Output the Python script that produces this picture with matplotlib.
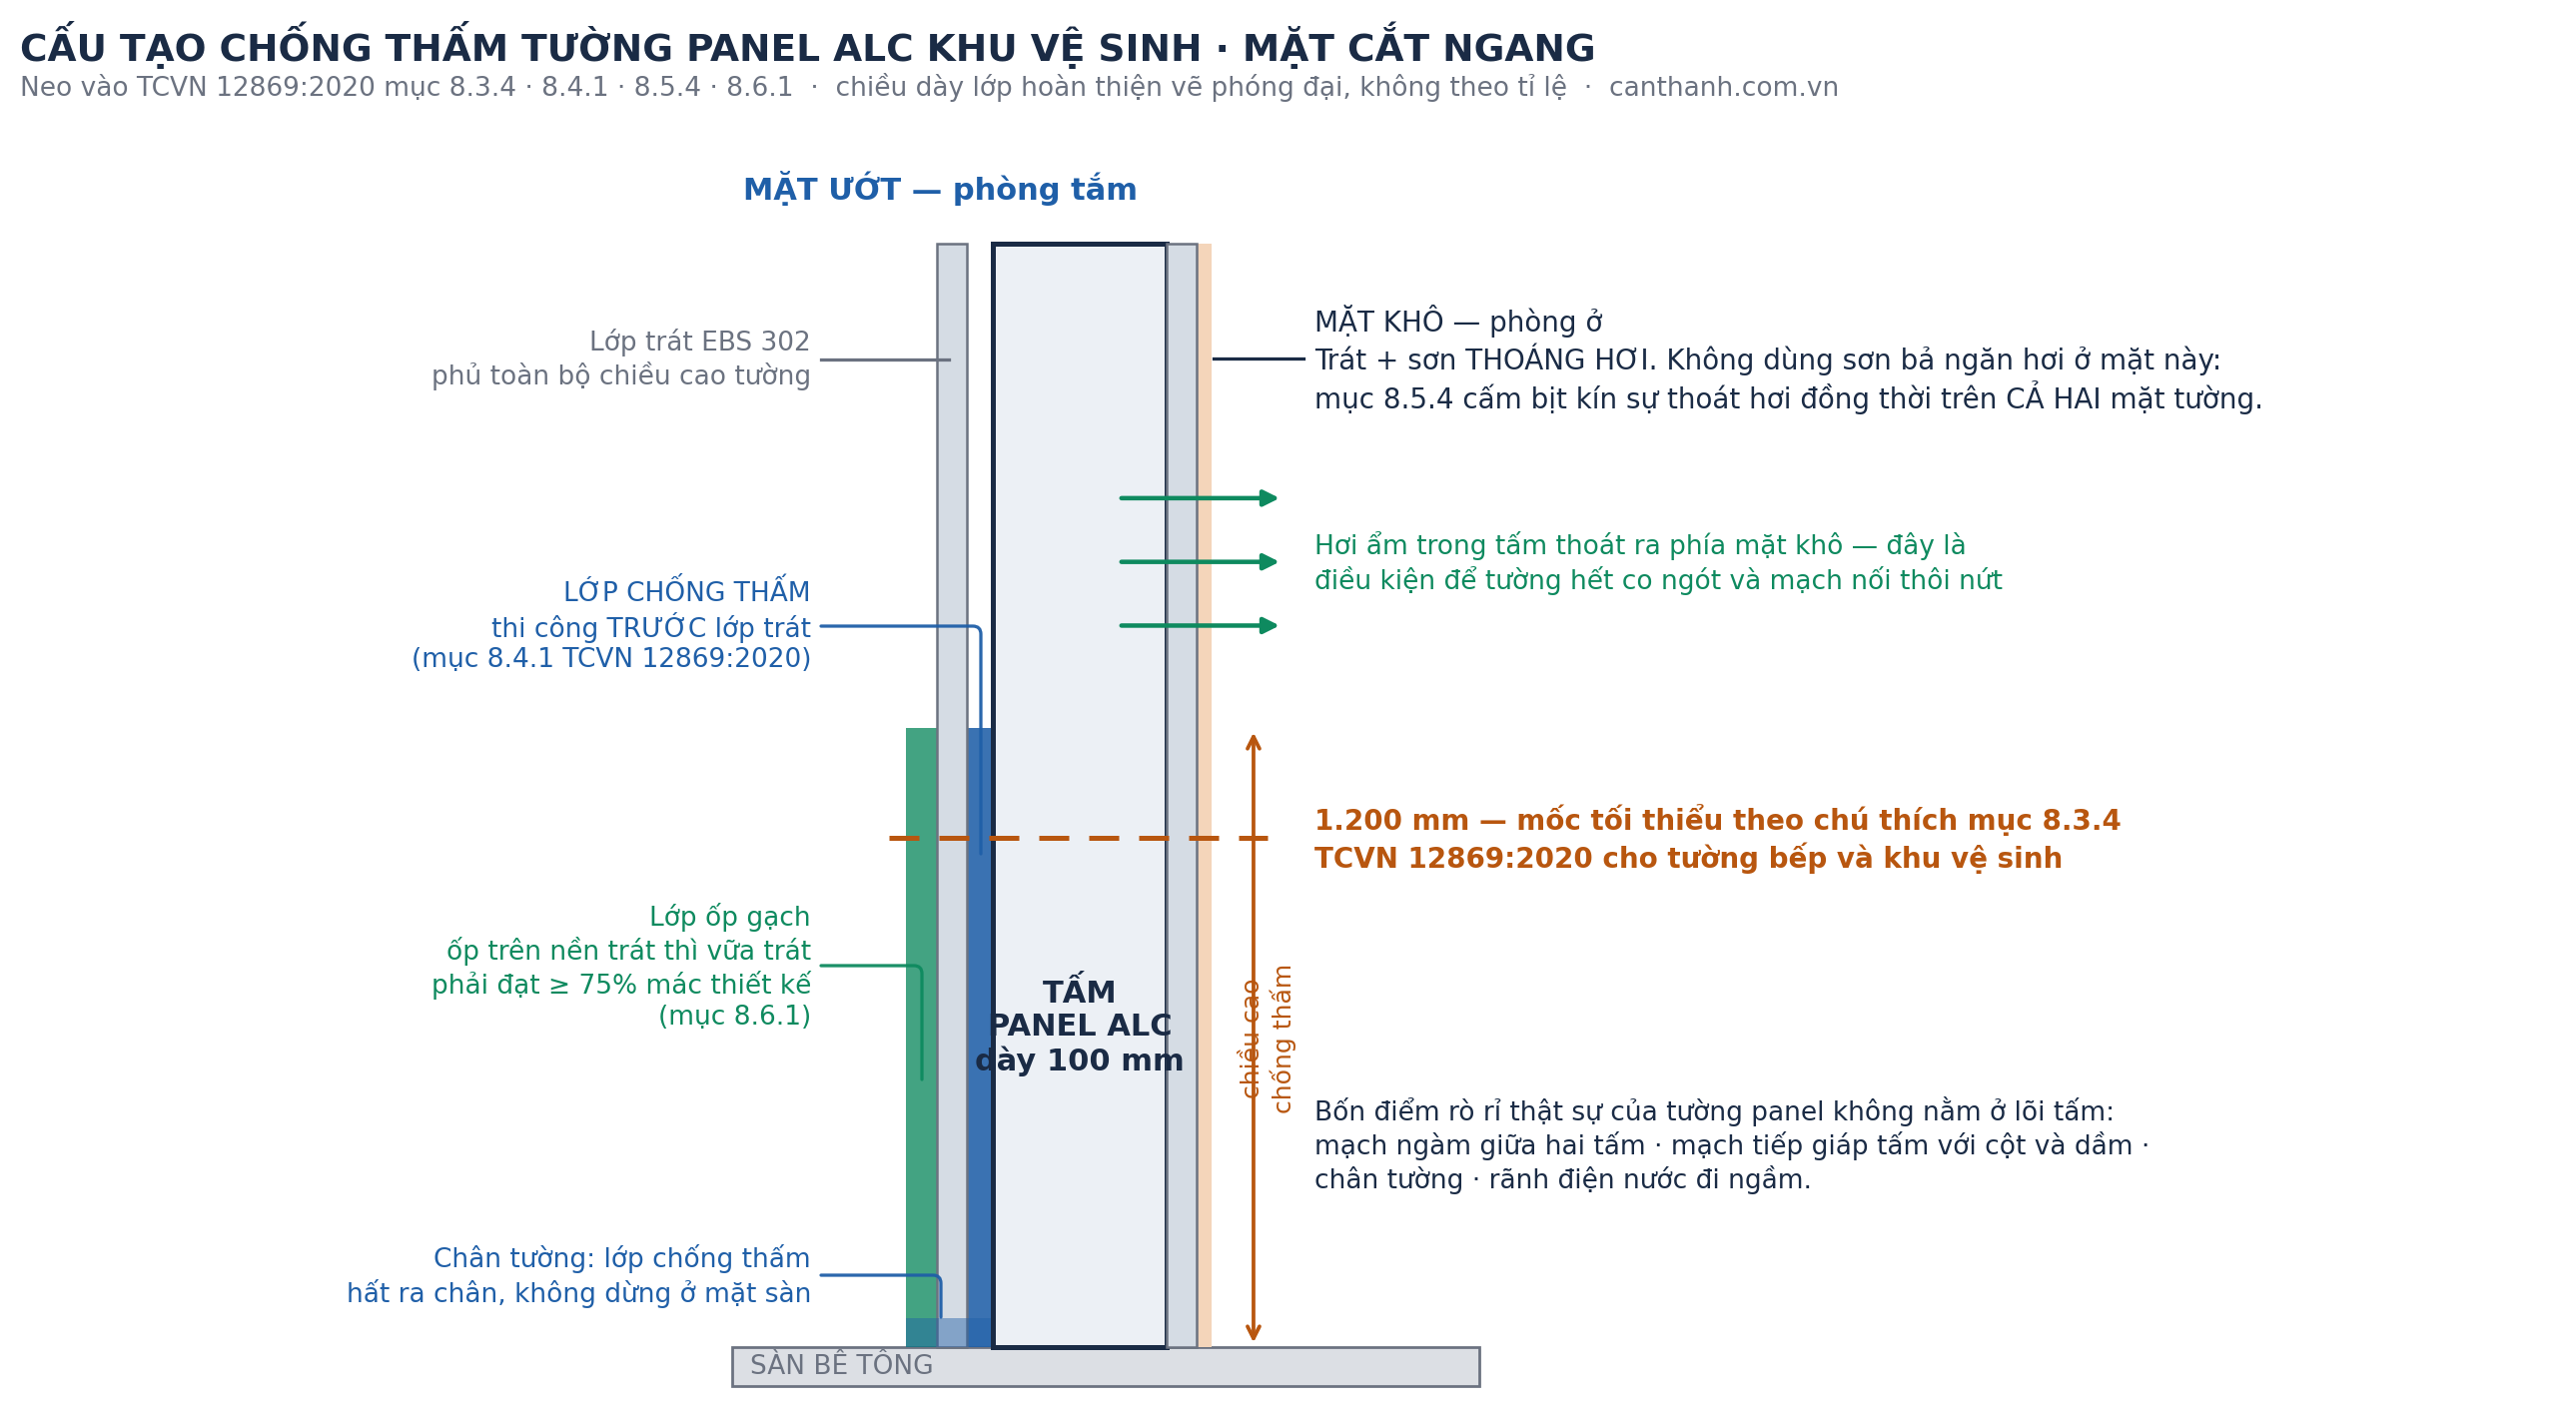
import matplotlib
matplotlib.use('Agg')
import matplotlib.pyplot as plt
from matplotlib.patches import Rectangle

plt.rcParams['font.family'] = ['DejaVu Sans']

NAVY = '#1a2b45'
GREY = '#6b7280'
BLUE = '#1f5fa8'
GREEN = '#0e8a5f'
ORANGE = '#b8560f'

# chiều dày lớp (đơn vị vẽ, tấm = 100) và chiều cao (mm)
panel_thickness = 100
plaster_wet = 17
plaster_dry = 17
paint_dry = 9
tile_thickness = 18
membrane_thickness = 15
floor_thickness = 90
wall_height = 2600
membrane_height = 1460
min_height = 1200
base_band = 70
moisture_levels = [2000, 1850, 1700]

title = 'CẤU TẠO CHỐNG THẤM TƯỜNG PANEL ALC KHU VỆ SINH · MẶT CẮT NGANG'
subtitle = ('Neo vào TCVN 12869:2020 mục 8.3.4 · 8.4.1 · 8.5.4 · 8.6.1  ·  '
            'chiều dày lớp hoàn thiện vẽ phóng đại, không theo tỉ lệ  ·  canthanh.com.vn')
left_notes = [
    ('Lớp trát EBS 302\nphủ toàn bộ chiều cao tường', 360, GREY),
    ('LỚP CHỐNG THẤM\nthi công TRƯỚC lớp trát\n(mục 8.4.1 TCVN 12869:2020)', 627, BLUE),
    ('Lớp ốp gạch\nốp trên nền trát thì vữa trát\nphải đạt ≥ 75% mác thiết kế\n(mục 8.6.1)', 968, GREEN),
    ('Chân tường: lớp chống thấm\nhất ra chân, không dừng ở mặt sàn', 1278, BLUE),
]
dry_note = ('MẶT KHÔ — phòng ở\nTrát + sơn THOÁNG HƠI. Không dùng sơn bả ngăn hơi ở mặt này:\n'
            'mục 8.5.4 cấm bịt kín sự thoát hơi đồng thời trên CẢ HAI mặt tường.')
vapour_note = 'Hơi ẩm trong tấm thoát ra phía mặt khô — đây là\nđiều kiện để tường hết co ngót và mạch nối thôi nứt'
height_note = '1.200 mm — mốc tối thiểu theo chú thích mục 8.3.4\nTCVN 12869:2020 cho tường bếp và khu vệ sinh'
leak_note = ('Bốn điểm rò rỉ thật sự của tường panel không nằm ở lõi tấm:\n'
             'mạch ngàm giữa hai tấm · mạch tiếp giáp tấm với cột và dầm ·\n'
             'chân tường · rãnh điện nước đi ngầm.')

fig = plt.figure(figsize=(2579 / 180, 1419 / 180), dpi=180)

# trục theo kích thước tường
ax = fig.add_axes([0, 0, 1, 1])
ax.set_xlim(-571.3, 911)
ax.set_ylim(-163.5, 3173)
ax.axis('off')

# trục pixel cho chữ và đường dẫn
ann = fig.add_axes([0, 0, 1, 1], zorder=5)
ann.set_xlim(0, 2579)
ann.set_ylim(1419, 0)
ann.axis('off')
ann.patch.set_alpha(0)

wet_face = -membrane_thickness
tile_face = wet_face - plaster_wet
dry_face = panel_thickness + plaster_dry

# sàn
ax.add_patch(Rectangle((-150, -floor_thickness), 430, floor_thickness, fc='#dcdfe4', ec=GREY, lw=1.1, zorder=1))
# gạch, chống thấm
ax.add_patch(Rectangle((tile_face - tile_thickness, 0), tile_thickness, membrane_height, fc=GREEN, alpha=0.78, lw=0, zorder=2))
ax.add_patch(Rectangle((wet_face, 0), membrane_thickness, membrane_height, fc=BLUE, alpha=0.88, lw=0, zorder=2))
# lớp trát
ax.add_patch(Rectangle((tile_face, 0), plaster_wet, wall_height, fc='#d5dce4', ec=GREY, lw=1.0, zorder=2))
ax.add_patch(Rectangle((dry_face, 0), paint_dry, wall_height, fc='#f4d5ba', lw=0, zorder=2))
# tấm panel
ax.add_patch(Rectangle((0, 0), panel_thickness, wall_height, fc='#ecf0f5', ec=NAVY, lw=2, zorder=3))
ax.add_patch(Rectangle((panel_thickness, 0), plaster_dry, wall_height, fc='#d5dce4', ec=GREY, lw=1.0, zorder=4))
# dải chân tường
ax.add_patch(Rectangle((tile_face - tile_thickness, 0), tile_thickness + plaster_wet + membrane_thickness, base_band,
                       fc=BLUE, alpha=0.45, lw=0, zorder=2.5))

# mốc 1200
ax.plot([-60, 158], [min_height, min_height], color=ORANGE, lw=2, ls=(0, (6, 4)), dash_capstyle='butt', zorder=6)
ax.annotate('', xy=(150, membrane_height), xytext=(150, 0),
            arrowprops=dict(arrowstyle='<->', color=ORANGE, lw=1.5, mutation_scale=12), zorder=6)

# hơi ẩm
for level in moisture_levels:
    ax.annotate('', xy=(165, level), xytext=(74, level),
                arrowprops=dict(arrowstyle='-|>', color=GREEN, lw=1.8, mutation_scale=13, shrinkA=0, shrinkB=0), zorder=6)


def leader(x0, y0, x1, y1, color):
    ann.annotate('', xy=(x1, y1), xytext=(x0, y0),
                 arrowprops=dict(arrowstyle='-', color=color, lw=1.3, alpha=0.95, shrinkA=0, shrinkB=0,
                                 connectionstyle='angle,angleA=0,angleB=90,rad=8'))


ann.plot([822, 950], [360, 360], color=GREY, lw=1.3)
ann.plot([1215, 1305], [359, 359], color=NAVY, lw=1.3)
leader(822, 627, 982, 855, BLUE)
leader(822, 967, 923, 1081, GREEN)
leader(822, 1277, 942, 1319, BLUE)

# chữ
ann.text(20, 45, title, fontsize=15, fontweight='bold', color=NAVY, va='center')
ann.text(20, 87, subtitle, fontsize=10.55, color=GREY, va='center')
ann.text(942, 189, 'MẶT ƯỚT — phòng tắm', fontsize=12.2, fontweight='bold', color=BLUE, ha='center', va='center')

for note, y, color in left_notes:
    ann.text(812, y, note, fontsize=10.55, color=color, ha='right', va='center', linespacing=1.22)

ann.text(1316, 360, dry_note, fontsize=11.1, color=NAVY, va='center', linespacing=1.2)
ann.text(1316, 564, vapour_note, fontsize=10.55, color=GREEN, va='center', linespacing=1.22)
ann.text(1316, 840, height_note, fontsize=11.1, fontweight='bold', color=ORANGE, va='center', linespacing=1.22)
ann.text(1316, 1147, leak_note, fontsize=10.55, color=NAVY, va='center', linespacing=1.22)

ann.text(1081, 1028, 'TẤM\nPANEL ALC\ndày 100 mm', fontsize=12.2, fontweight='bold', color=NAVY, ha='center', va='center', linespacing=1.2)
ann.text(1270, 1040, 'chiều cao\nchống thấm', fontsize=10.05, color=ORANGE, rotation=90, ha='center', va='center', multialignment='center', linespacing=1.22)
ann.text(751, 1369, 'SÀN BÊ TÔNG', fontsize=10.55, color=GREY, va='center')

fig.savefig('out.png', dpi=180, facecolor='white')
